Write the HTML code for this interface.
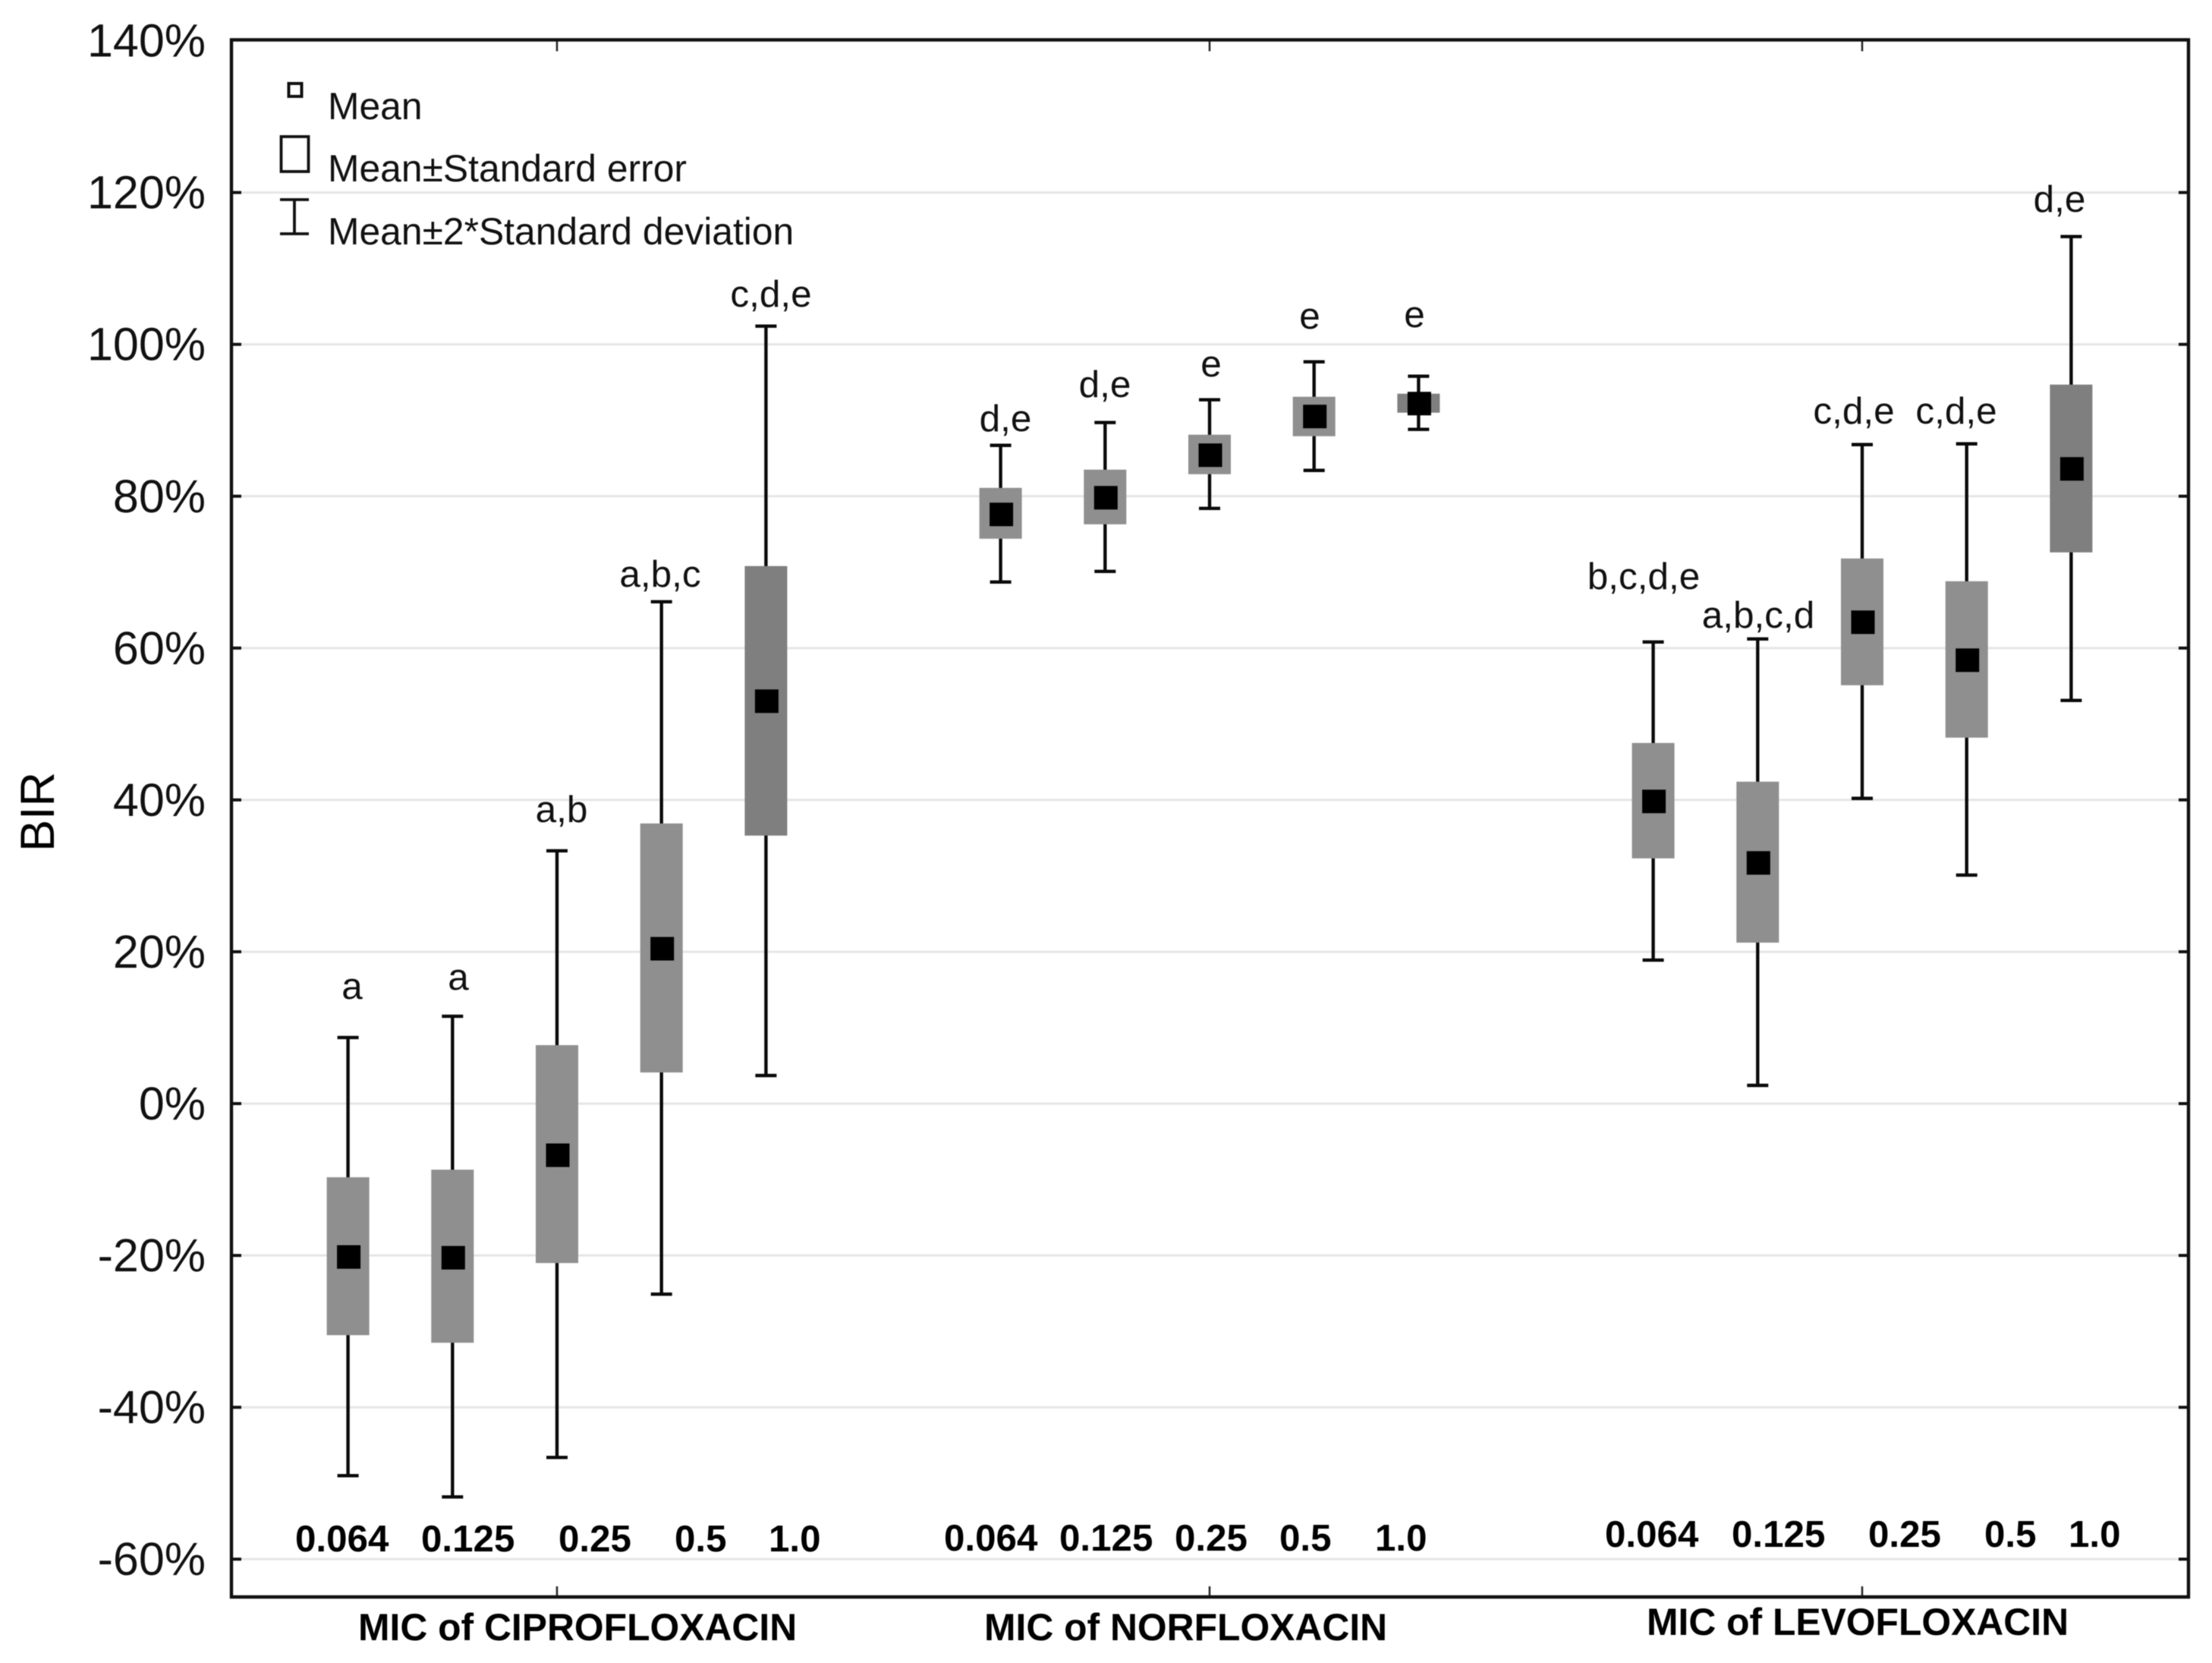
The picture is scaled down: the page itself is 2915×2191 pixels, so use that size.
<!DOCTYPE html>
<html lang="en">
<head>
<meta charset="utf-8">
<title>BIR by MIC of fluoroquinolones</title>
<style>
html,body{margin:0;padding:0;background:#fff;}
svg{display:block;font-family:"Liberation Sans",Arial,sans-serif;fill:#000;}
.letter{font-size:49.5px;text-anchor:middle;fill:#111;}
.dose{font-size:49.3px;font-weight:bold;}
.title{font-size:49.8px;font-weight:bold;}
.legend{font-size:49.8px;fill:#111;}
</style>
</head>
<body>
<svg id="chart" xmlns="http://www.w3.org/2000/svg" width="2915" height="2191" viewBox="0 0 2915 2191" style="filter:blur(0.6px)">
  <rect x="0" y="0" width="2915" height="2191" fill="#ffffff"/>
  <g id="grid"></g>
  <g id="marks"></g>
  <g id="frame"></g>
  <g id="yLabels"></g>

  <text transform="translate(71,1122) rotate(-90)" font-size="63">BIR</text>

  <g>
    <rect x="380.5" y="110" width="17" height="17" fill="none" stroke="#111" stroke-width="4"/>
    <text class="legend" x="432" y="157">Mean</text>
    <rect x="370.5" y="180" width="36" height="46" fill="none" stroke="#111" stroke-width="3.8"/>
    <text class="legend" x="432" y="239">Mean±Standard error</text>
    <path d="M369 263H407M388 263V308M369 308H407" fill="none" stroke="#111" stroke-width="3.8"/>
    <text class="legend" x="432" y="322">Mean±2*Standard deviation</text>
  </g>

  <g>
    <text class="letter" x="464" y="1316">a</text>
    <text class="letter" x="604" y="1304">a</text>
    <text class="letter" x="740" y="1083">a,b</text>
    <text class="letter" x="870" y="773">a,b,c</text>
    <text class="letter" x="1016" y="404">c,d,e</text>
    <text class="letter" x="1325" y="568">d,e</text>
    <text class="letter" x="1456" y="523">d,e</text>
    <text class="letter" x="1596" y="496">e</text>
    <text class="letter" x="1726" y="433">e</text>
    <text class="letter" x="1864" y="431">e</text>
    <text class="letter" x="2166" y="776">b,c,d,e</text>
    <text class="letter" x="2317" y="827">a,b,c,d</text>
    <text class="letter" x="2443" y="558">c,d,e</text>
    <text class="letter" x="2578" y="558">c,d,e</text>
    <text class="letter" x="2714" y="279">d,e</text>
  </g>

  <g>
    <text class="dose" x="389" y="2044">0.064</text>
    <text class="dose" x="555" y="2044">0.125</text>
    <text class="dose" x="736" y="2044">0.25</text>
    <text class="dose" x="889" y="2044">0.5</text>
    <text class="dose" x="1013" y="2044">1.0</text>
    <text class="dose" x="1244" y="2043">0.064</text>
    <text class="dose" x="1396" y="2043">0.125</text>
    <text class="dose" x="1548" y="2043">0.25</text>
    <text class="dose" x="1686" y="2043">0.5</text>
    <text class="dose" x="1812" y="2043">1.0</text>
    <text class="dose" x="2115" y="2038">0.064</text>
    <text class="dose" x="2282" y="2038">0.125</text>
    <text class="dose" x="2462" y="2038">0.25</text>
    <text class="dose" x="2615" y="2038">0.5</text>
    <text class="dose" x="2726" y="2038">1.0</text>
  </g>

  <g>
    <text class="title" x="472" y="2161">MIC of CIPROFLOXACIN</text>
    <text class="title" x="1297" y="2161">MIC of NORFLOXACIN</text>
    <text class="title" x="2170" y="2154">MIC of LEVOFLOXACIN</text>
  </g>
</svg>
<script>
// Values in percent, ordered: ciprofloxacin, norfloxacin, levofloxacin; each with 5 MIC doses.
const yTicks = [140, 120, 100, 80, 60, 40, 20, 0, -20, -40, -60];
const groupCount = 3;
const doseCount = 5;
const whiskerHigh = [8.7, 11.5, 33.3, 66.1, 102.4,  86.7, 89.7, 92.7, 97.7, 95.8,  60.8, 61.2, 86.8, 86.9, 114.2];
const boxHigh     = [-9.7, -8.7, 7.7, 36.9, 70.8,   81.1, 83.5, 88.1, 93.1, 93.5,  47.5, 42.4, 71.8, 68.8, 94.7];
const meanValue   = [-20.2, -20.3, -6.8, 20.4, 53.0, 77.6, 79.8, 85.4, 90.5, 92.2, 39.8, 31.7, 63.4, 58.4, 83.6];
const boxLow      = [-30.5, -31.5, -21.0, 4.1, 35.3, 74.4, 76.3, 82.9, 87.9, 91.0, 32.3, 21.2, 55.1, 48.2, 72.6];
const whiskerLow  = [-49.0, -51.8, -46.6, -25.1, 3.7, 68.7, 70.1, 78.4, 83.4, 88.8, 18.9, 2.4, 40.2, 30.1, 53.1];

const NS = 'http://www.w3.org/2000/svg';
const plotLeft = 305, plotRight = 2884, plotTop = 52.5, plotBottom = 2104;

function yScale(v) { return 1454 - v * 10.003; }
function xScale(group, dose) { return 734 + group * 860 + (dose - 2) * 137.7; }
function make(tag, attrs, parent) {
  const el = document.createElementNS(NS, tag);
  for (const k in attrs) el.setAttribute(k, attrs[k]);
  parent.appendChild(el);
  return el;
}

const grid = document.getElementById('grid');
const frame = document.getElementById('frame');
const yLabels = document.getElementById('yLabels');
const marks = document.getElementById('marks');

yTicks.forEach(function (t) {
  const y = yScale(t);
  if (t < 140) {
    const line = make('line', {x1: plotLeft, x2: plotRight, y1: y, y2: y, stroke: '#e6e6e6', 'stroke-width': 3}, grid);
    
    
    const tl = make('line', {x1: plotLeft, x2: plotLeft + 13, y1: y, y2: y, stroke: '#111', 'stroke-width': 4}, frame);
    
    
    const tr = make('line', {x1: plotRight, x2: plotRight - 13, y1: y, y2: y, stroke: '#111', 'stroke-width': 4}, frame);
    
    
  }
  const label = make('text', {x: 271, y: y + 21, 'text-anchor': 'end', 'font-size': 61, fill: '#111'}, yLabels);
  
  
  label.textContent = t + '%';
});

for (let g = 0; g < groupCount; g++) {
  const x = xScale(g, 2);
  const top = make('line', {x1: x, x2: x, y1: plotTop, y2: plotTop + 15, stroke: '#222', 'stroke-width': 2.5}, frame);
  
  
  const bottom = make('line', {x1: x, x2: x, y1: plotBottom, y2: plotBottom - 14, stroke: '#222', 'stroke-width': 2.5}, frame);
  
  
}

const border = make('path', {
  d: 'M' + plotLeft + ' ' + plotTop + 'H' + plotRight + 'V' + plotBottom + 'H' + plotLeft + 'Z',
  fill: 'none', stroke: '#111', 'stroke-width': 4.4
}, frame);



for (let g = 0; g < groupCount; g++) {
  for (let d = 0; d < doseCount; d++) {
    const i = g * doseCount + d;
    const x = xScale(g, d);
    const yHi = yScale(whiskerHigh[i]);
    const yLo = yScale(whiskerLow[i]);
    const yBoxHi = yScale(boxHigh[i]);
    const yBoxLo = yScale(boxLow[i]);
    const yMean = yScale(meanValue[i]);

    const stem = make('line', {x1: x, x2: x, y1: yHi, y2: yLo, stroke: '#0a0a0a', 'stroke-width': 4.4}, marks);
    
    
    const capHi = make('line', {x1: x - 14, x2: x + 14, y1: yHi, y2: yHi, stroke: '#0a0a0a', 'stroke-width': 4.4}, marks);
    
    
    const capLo = make('line', {x1: x - 14, x2: x + 14, y1: yLo, y2: yLo, stroke: '#0a0a0a', 'stroke-width': 4.4}, marks);
    
    

    const box = make('rect', {x: x - 28, y: yBoxHi, width: 56, height: yBoxLo - yBoxHi, fill: d === 4 ? '#7f7f7f' : '#8f8f8f'}, marks);
    
    

    const mean = make('rect', {x: x - 14.5, y: yMean - 15.5, width: 31, height: 31, fill: '#000'}, marks);
    
    
  }
}
</script>
</body>
</html>
